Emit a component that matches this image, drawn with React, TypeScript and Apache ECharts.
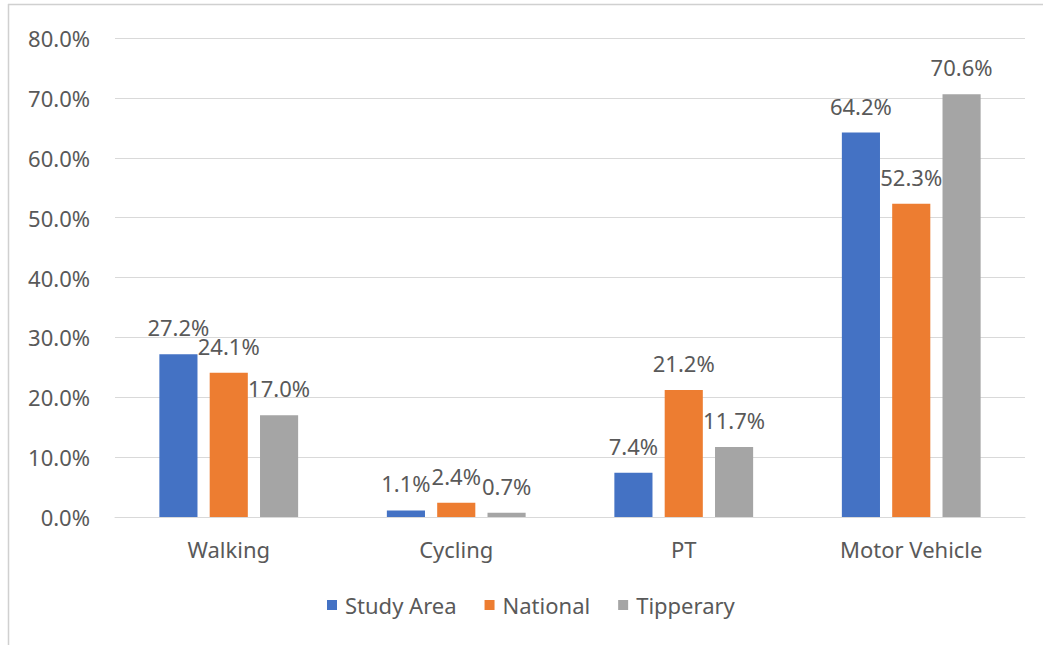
import React, { useEffect, useRef } from "react";
import * as echarts from "echarts";

const categories = ["Walking", "Cycling", "PT", "Motor Vehicle"];
const studyArea = [27.2, 1.1, 7.4, 64.2];
const national = [24.1, 2.4, 21.2, 52.3];
const tipperary = [17.0, 0.7, 11.7, 70.6];
const seriesNames = ["Study Area", "National", "Tipperary"];
const colors = ["#4472C4", "#ED7D31", "#A5A5A5"];

const FONT = "'Noto Sans', 'DejaVu Sans', sans-serif";
const TEXT = "#595959";

export default function App() {
  const ref = useRef<HTMLDivElement>(null);
  useEffect(() => {
    const chart = echarts.init(ref.current!, null, { renderer: "svg" });
    const data = [studyArea, national, tipperary];
    chart.setOption({
      animation: false,
      backgroundColor: "#ffffff",
      grid: { left: 115, right: 18, top: 38, bottom: 128 },
      legend: {
        bottom: 24,
        left: 322,
        itemWidth: 10,
        itemHeight: 10,
        itemGap: 28,
        icon: "rect",
        textStyle: { fontSize: 22, color: TEXT, fontFamily: FONT, padding: [0, 0, 0, 3] },
        data: seriesNames,
      },
      xAxis: {
        type: "category",
        data: categories,
        axisLine: { lineStyle: { color: "#D9D9D9", width: 1 } },
        axisTick: { show: false },
        axisLabel: { fontSize: 22, color: TEXT, fontFamily: FONT, margin: 21 },
      },
      yAxis: {
        type: "value",
        min: 0,
        max: 80,
        interval: 10,
        axisLine: { show: false },
        axisTick: { show: false },
        splitLine: { lineStyle: { color: "#D9D9D9", width: 1 } },
        axisLabel: {
          fontSize: 22,
          color: TEXT,
          fontFamily: FONT,
          margin: 25,
          formatter: (v: number) => v.toFixed(1) + "%",
        },
      },
      series: seriesNames.map((name, i) => ({
        name,
        type: "bar",
        data: data[i],
        barGap: "32%",
        barCategoryGap: "39%",
        itemStyle: { color: colors[i] },
        label: {
          show: true,
          position: "top",
          distance: 16,
          fontSize: 22,
          color: TEXT,
          fontFamily: FONT,
          formatter: (p: any) => Number(p.value).toFixed(1) + "%",
        },
      })),
      graphic: [
        { type: "line", shape: { x1: 8.5, y1: 4, x2: 8.5, y2: 645 }, style: { stroke: "#D0D0D0", lineWidth: 1.5 } },
        { type: "line", shape: { x1: 8, y1: 4.5, x2: 1043, y2: 4.5 }, style: { stroke: "#D0D0D0", lineWidth: 1.5 } },
      ],
    });
    return () => chart.dispose();
  }, []);
  return (
    <div
      ref={ref}
      style={{ position: "fixed", left: 0, top: 0, width: 1043, height: 645 }}
    />
  );
}
